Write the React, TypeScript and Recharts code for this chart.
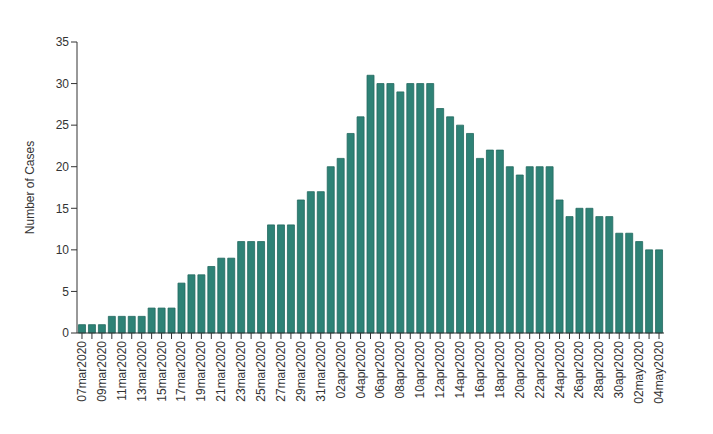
import React from 'react';
import { BarChart, Bar, XAxis, YAxis } from 'recharts';

const dates = [
  '07mar2020','08mar2020','09mar2020','10mar2020','11mar2020','12mar2020','13mar2020','14mar2020','15mar2020','16mar2020',
  '17mar2020','18mar2020','19mar2020','20mar2020','21mar2020','22mar2020','23mar2020','24mar2020','25mar2020','26mar2020',
  '27mar2020','28mar2020','29mar2020','30mar2020','31mar2020','01apr2020','02apr2020','03apr2020','04apr2020','05apr2020',
  '06apr2020','07apr2020','08apr2020','09apr2020','10apr2020','11apr2020','12apr2020','13apr2020','14apr2020','15apr2020',
  '16apr2020','17apr2020','18apr2020','19apr2020','20apr2020','21apr2020','22apr2020','23apr2020','24apr2020','25apr2020',
  '26apr2020','27apr2020','28apr2020','29apr2020','30apr2020','01may2020','02may2020','03may2020','04may2020',
];

const cases = [
  1, 1, 1, 2, 2, 2, 2, 3, 3, 3,
  6, 7, 7, 8, 9, 9, 11, 11, 11, 13,
  13, 13, 16, 17, 17, 20, 21, 24, 26, 31,
  30, 30, 29, 30, 30, 30, 27, 26, 25, 24,
  21, 22, 22, 20, 19, 20, 20, 20, 16, 14,
  15, 15, 14, 14, 12, 12, 11, 10, 10,
];

const yTicks = [0, 5, 10, 15, 20, 25, 30, 35];

const data = dates.map((d, i) => ({ date: d, cases: cases[i] }));

const FONT = '"Liberation Sans", Arial, sans-serif';

const XTick = (props: any) => {
  const { x, y, payload, index } = props;
  if (index % 2 !== 0) return <g />;
  return (
    <g transform={`translate(${x},${y})`}>
      <text
        x={0}
        y={0}
        dy={4}
        textAnchor="end"
        transform="rotate(-90)"
        fontSize={12}
        fontFamily={FONT}
        fill="#333"
      >
        {payload.value}
      </text>
    </g>
  );
};

const YLabel = (props: any) => {
  const vb = props.viewBox || {};
  const x = vb.x + 8;
  const y = vb.y + vb.height / 2;
  return (
    <text
      x={x}
      y={y}
      transform={`rotate(-90, ${x}, ${y})`}
      textAnchor="middle"
      dominantBaseline="central"
      fontSize={12}
      fontFamily={FONT}
      fill="#333"
    >
      Number of Cases
    </text>
  );
};

export default function App() {
  return (
    <div style={{ width: 697, height: 418 }}>
      <BarChart
        width={697}
        height={418}
        data={data}
        margin={{ top: 34, right: 41, bottom: 13, left: 14 }}
        barCategoryGap="15%"
      >
        <XAxis
          dataKey="date"
          interval={0}
          tick={<XTick />}
          height={80}
          stroke="#333"
          tickSize={6}
          tickMargin={2}
        />
        <YAxis
          domain={[0, 35]}
          ticks={yTicks}
          width={55}
          stroke="#333"
          tickSize={6}
          tickMargin={2}
          tick={{ fontSize: 12, fontFamily: FONT, fill: '#333' }}
          label={{ content: <YLabel /> } as any}
        />
        <Bar
          dataKey="cases"
          fill="#2e8276"
          stroke="#23695f"
          strokeWidth={0.8}
          isAnimationActive={false}
        />
      </BarChart>
    </div>
  );
}
